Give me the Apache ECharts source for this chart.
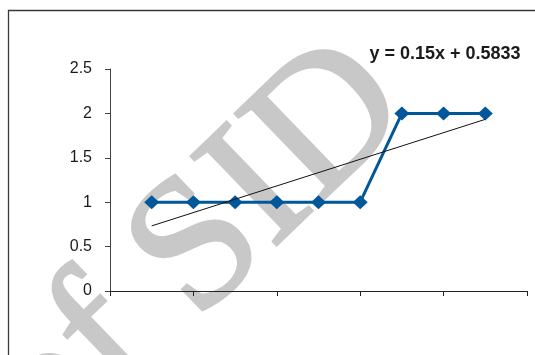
<!DOCTYPE html>
<html><head><meta charset="utf-8">
<script src="https://cdn.jsdelivr.net/npm/echarts@6/dist/echarts.min.js"></script>
<style>html,body{margin:0;padding:0;background:#fff}#c{width:535px;height:355px}</style>
</head><body><div id="c"></div>
<script>
// Data
var xValues = [1, 2, 3, 4, 5, 6, 7, 8, 9];
var yValues = [1, 1, 1, 1, 1, 1, 2, 2, 2];
var trendX = [1, 9];
var trendY = [0.7333, 1.9333];
var trendLabel = 'y = 0.15x + 0.5833';
var yTicks = { min: 0, max: 2.5, interval: 0.5 };
var xTicks = { min: 0, max: 10, interval: 2 };
var watermark = 'of SID';

var chart = echarts.init(document.getElementById('c'), null, { renderer: 'canvas' });
chart.setOption({
  backgroundColor: '#fff',
  animation: false,
  grid: { left: 110, right: 8, top: 69, bottom: 64 },
  graphic: [
    { type: 'rect', z: -10, silent: true, shape: { x: 8.5, y: 10.5, width: 600, height: 400 },
      style: { fill: 'none', stroke: '#3a3a3a', lineWidth: 1.3 } },
    { type: 'text', z: -5, silent: true, x: 198, y: 252, rotation: 44 * Math.PI / 180,
      style: { text: watermark, font: '188px "Liberation Serif"', fill: '#c8c8c8',
        stroke: '#c8c8c8', lineWidth: 3,
        textAlign: 'center', textVerticalAlign: 'middle' } },
    { type: 'text', z: 50, x: 445, y: 54,
      style: { text: trendLabel, font: 'bold 18px "Liberation Sans"', fill: '#1a1a1a',
        textAlign: 'center', textVerticalAlign: 'middle' } }
  ],
  xAxis: {
    type: 'value', min: xTicks.min, max: xTicks.max, interval: xTicks.interval,
    axisLine: { lineStyle: { color: '#222', width: 1 } },
    axisTick: { show: true, inside: false, length: 5, lineStyle: { color: '#222' } },
    axisLabel: { show: false },
    splitLine: { show: false }
  },
  yAxis: {
    type: 'value', min: yTicks.min, max: yTicks.max, interval: yTicks.interval,
    axisLine: { show: true, lineStyle: { color: '#444', width: 1 } },
    axisTick: { show: true, inside: false, length: 5, lineStyle: { color: '#444' } },
    axisLabel: { color: '#1a1a1a', fontSize: 16, fontFamily: 'Liberation Sans', margin: 18 },
    splitLine: { show: false }
  },
  series: [
    {
      type: 'line', z: 10,
      data: xValues.map(function (x, i) { return [x, yValues[i]]; }),
      lineStyle: { color: '#00579a', width: 3 },
      itemStyle: { color: '#00579a' },
      symbol: 'diamond', symbolSize: [15, 14]
    },
    {
      type: 'line', z: 11,
      data: trendX.map(function (x, i) { return [x, trendY[i]]; }),
      lineStyle: { color: '#111', width: 1 },
      symbol: 'none'
    }
  ]
});
</script>
</body></html>
